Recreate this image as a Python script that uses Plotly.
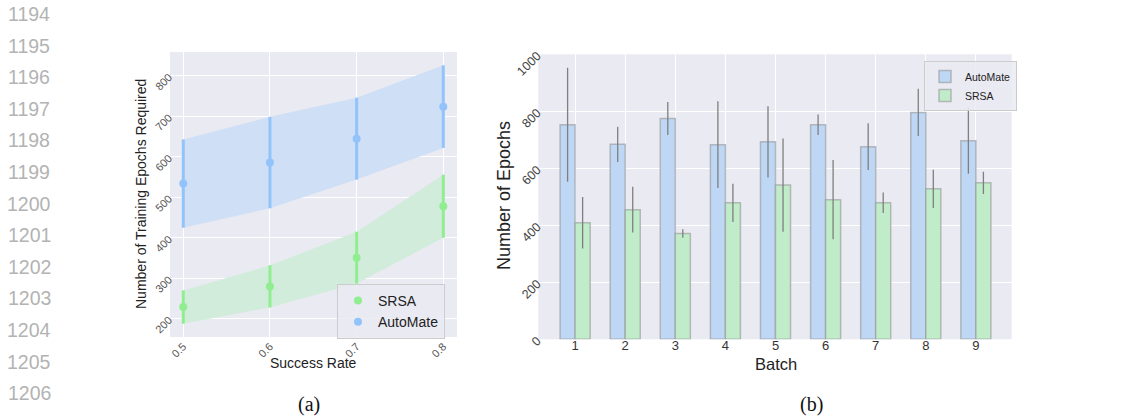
import plotly.graph_objects as go

# ---------------- data ----------------
success_rate = [0.5, 0.6, 0.7, 0.8]
automate_mean = [534, 586, 645, 724]
automate_err = [109, 113, 101, 102]
srsa_mean = [229, 280, 351, 478]
srsa_err = [41, 52, 64, 78]

batches = [1, 2, 3, 4, 5, 6, 7, 8, 9]
batch_automate = [753, 684, 775, 683, 693, 753, 676, 796, 697]
batch_automate_err = [200, 62, 58, 152, 125, 36, 82, 83, 116]
batch_srsa = [409, 455, 371, 479, 541, 490, 479, 528, 549]
batch_srsa_err = [90, 80, 15, 67, 164, 139, 36, 67, 39]

line_numbers = list(range(1194, 1207))

W, H = 1122, 416
BG = "#eaeaf2"
FONT = "Liberation Sans"

fig = go.Figure()

def px_x(x):
    return x / W

def px_y(y):
    return 1 - y / H

# ---------------- left panel ----------------
def band(mean, err, color, name):
    upper = [m + e for m, e in zip(mean, err)]
    lower = [m - e for m, e in zip(mean, err)]
    return go.Scatter(
        x=success_rate + success_rate[::-1],
        y=upper + lower[::-1],
        fill="toself", fillcolor=color, line=dict(width=0),
        mode="lines", hoverinfo="skip", showlegend=False,
        xaxis="x", yaxis="y", name=name + " band",
    )

fig.add_trace(band(automate_mean, automate_err, "#cfdff6", "AutoMate"))
fig.add_trace(band(srsa_mean, srsa_err, "#d2ecdc", "SRSA"))

fig.add_trace(go.Scatter(
    x=success_rate, y=srsa_mean, mode="markers", name="SRSA",
    marker=dict(color="#90ee90", size=8),
    error_y=dict(type="data", array=srsa_err, color="#90ee90", thickness=3, width=0),
    xaxis="x", yaxis="y", legend="legend",
))
fig.add_trace(go.Scatter(
    x=success_rate, y=automate_mean, mode="markers", name="AutoMate",
    marker=dict(color="#92c3fb", size=8),
    error_y=dict(type="data", array=automate_err, color="#92c3fb", thickness=3, width=0),
    xaxis="x", yaxis="y", legend="legend",
))

# ---------------- right panel ----------------
bar_w = 0.3
fig.add_trace(go.Bar(
    x=[b - bar_w / 2 for b in batches], y=batch_automate, width=bar_w, name="AutoMate",
    marker=dict(color="#bdd7f5", line=dict(color="rgba(150,150,150,0.6)", width=1.5)),
    error_y=dict(type="data", array=batch_automate_err, color="#7f7f7f", thickness=1.3, width=0),
    xaxis="x2", yaxis="y2", legend="legend2",
))
fig.add_trace(go.Bar(
    x=[b + bar_w / 2 for b in batches], y=batch_srsa, width=bar_w, name="SRSA",
    marker=dict(color="#c0ecca", line=dict(color="rgba(150,150,150,0.6)", width=1.5)),
    error_y=dict(type="data", array=batch_srsa_err, color="#7f7f7f", thickness=1.3, width=0),
    xaxis="x2", yaxis="y2", legend="legend2",
))

axis_common = dict(
    showgrid=True, gridcolor="white", gridwidth=1, zeroline=False,
    showline=False, ticks="", automargin=False,
)


def label(x, y, text, size, family=FONT, color="#222", angle=0):
    return dict(x=px_x(x), y=px_y(y), xref="paper", yref="paper", text=text,
                showarrow=False, xanchor="center", yanchor="middle", textangle=angle,
                font=dict(family=family, size=size, color=color))


annotations = []
for i, n in enumerate(line_numbers):
    annotations.append(label(29, 14 + i * 31.6, str(n), 19.5, color="#b3b3b3"))
# captions
annotations.append(label(309, 404, "(a)", 20, family="Liberation Serif", color="#111"))
annotations.append(label(811, 404, "(b)", 20, family="Liberation Serif", color="#111"))
# axis titles
annotations.append(label(141, 194, "Number of Training Epochs Required", 14, angle=-90))
annotations.append(label(313, 363, "Success Rate", 14))
annotations.append(label(504, 196, "Number of Epochs", 18, angle=-90))
annotations.append(label(776, 364, "Batch", 16.5))

fig.update_layout(
    template="none",
    width=W, height=H, margin=dict(l=0, r=0, t=0, b=0, pad=0, autoexpand=False),
    paper_bgcolor="white", plot_bgcolor=BG,
    barmode="overlay",
    xaxis=dict(domain=[px_x(170), px_x(457)], range=[0.4847, 0.8158], anchor="y",
               tickvals=success_rate, ticktext=["0.5", "0.6", "0.7", "0.8"], tickangle=-45,
               tickfont=dict(family=FONT, size=11, color="#555"), **axis_common),
    yaxis=dict(domain=[px_y(337), px_y(52)], range=[155, 859], anchor="x",
               tickvals=[200, 300, 400, 500, 600, 700, 800], tickangle=-45,
               tickfont=dict(family=FONT, size=11, color="#555"), **axis_common),
    xaxis2=dict(domain=[px_x(538.3), px_x(1011.7)], range=[0.265, 9.715], anchor="y2",
                tickvals=batches, tickangle=0, ticklabelstandoff=-3,
                tickfont=dict(family=FONT, size=13, color="#333"), **axis_common),
    yaxis2=dict(domain=[px_y(339.3), px_y(54.3)], range=[0, 1000], anchor="x2",
                tickvals=[0, 200, 400, 600, 800, 1000], tickangle=-45,
                tickfont=dict(family=FONT, size=12.5, color="#444"), **axis_common),
    legend=dict(x=px_x(337), y=px_y(284), xanchor="left", yanchor="top",
                bgcolor="rgba(234,234,242,0.85)", bordercolor="#cccccc", borderwidth=1,
                font=dict(family=FONT, size=14, color="#222")),
    legend2=dict(x=px_x(924), y=px_y(61), xanchor="left", yanchor="top",
                 bgcolor="rgba(234,234,242,0.85)", bordercolor="#cccccc", borderwidth=1,
                 font=dict(family=FONT, size=10.5, color="#222"), itemwidth=30,
                 tracegroupgap=0),
    annotations=annotations,
)

fig.write_html(
    "out.html",
    config={"displayModeBar": False},
    post_script="document.body.style.margin='0';document.body.style.overflow='hidden';",
)
